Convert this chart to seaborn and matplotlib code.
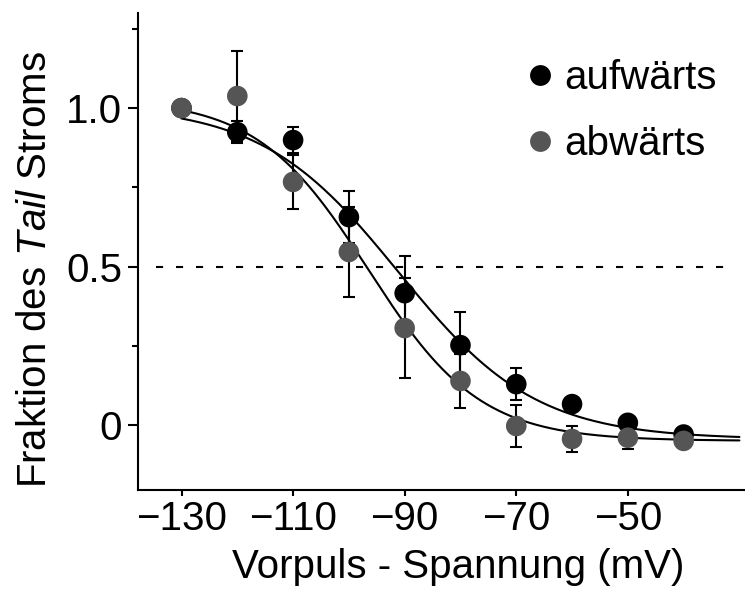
import numpy as np
import pandas as pd
import matplotlib
matplotlib.use("Agg")
import matplotlib.pyplot as plt
import seaborn as sns
from matplotlib.lines import Line2D
from matplotlib.ticker import FixedLocator

# ---------------- data ----------------
spannung = [-130, -120, -110, -100, -90, -80, -70, -60, -50, -40]

auf_mittel = [1.0, 0.924, 0.899, 0.656, 0.416, 0.252, 0.129, 0.066, 0.007, -0.030]
auf_fehler = [0.0, 0.035, 0.040, 0.082, 0.117, 0.104, 0.050, 0.0, 0.0, 0.0]

ab_mittel = [1.0, 1.038, 0.767, 0.546, 0.306, 0.139, -0.003, -0.044, -0.040, -0.050]
ab_fehler = [0.0, 0.142, 0.085, 0.142, 0.158, 0.085, 0.066, 0.040, 0.035, 0.0]

# Boltzmann fit parameters (top, bottom, V1/2, slope)
fit_auf = [1.01, -0.045, -91.1, 12.3]
fit_ab = [1.03, -0.050, -96.5, 10.0]
fit_start, fit_end = -130, -30

serien = ["aufwärts", "abwärts"]
farben = ["#000000", "#555555"]

x_ticks = [-130, -110, -90, -70, -50]
y_ticks = [0, 0.5, 1.0]
y_tick_labels = ["0", "0.5", "1.0"]
y_minor = [0.25, 0.75, 1.25]
referenz = 0.5
referenz_span = (-134.6, -30.8)

# ---------------- style ----------------
sns.set_theme(style="ticks")
plt.rcParams["font.family"] = ["Liberation Sans", "DejaVu Sans"]
plt.rcParams["mathtext.fontset"] = "custom"
plt.rcParams["mathtext.rm"] = "Liberation Sans"
plt.rcParams["mathtext.it"] = "Liberation Sans:italic"
for key in ["text.color", "axes.labelcolor", "xtick.color", "ytick.color",
            "xtick.labelcolor", "ytick.labelcolor", "axes.edgecolor"]:
    plt.rcParams[key] = "black"
FS = 29

df = pd.DataFrame({
    "V": spannung * 2,
    "Fraktion": auf_mittel + ab_mittel,
    "Fehler": auf_fehler + ab_fehler,
    "Richtung": [serien[0]] * len(spannung) + [serien[1]] * len(spannung),
})

def boltzmann(v, p):
    top, bottom, vh, k = p
    return bottom + (top - bottom) / (1 + np.exp((v - vh) / k))

v_fit = np.linspace(fit_start, fit_end, 300)
fit_df = pd.DataFrame({
    "V": np.concatenate([v_fit, v_fit]),
    "Fraktion": np.concatenate([boltzmann(v_fit, fit_auf), boltzmann(v_fit, fit_ab)]),
    "Richtung": [serien[0]] * len(v_fit) + [serien[1]] * len(v_fit),
})

fig = plt.figure(figsize=(7.45, 5.92), dpi=100)
ax = fig.add_axes([138 / 745, 1 - 490 / 592, 1 - 138 / 745, (490 - 13) / 592])

# reference line
ax.hlines(referenz, referenz_span[0], referenz_span[1], colors="black",
          linewidth=1.5, linestyles=(0, (3.4, 6.2)), zorder=1)

# fit curves
sns.lineplot(data=fit_df, x="V", y="Fraktion", units="Richtung", estimator=None,
             color="black", linewidth=1.5, ax=ax, legend=False, zorder=2)

# error bars
for name in serien:
    sub = df[df["Richtung"] == name]
    ax.errorbar(sub["V"], sub["Fraktion"], yerr=sub["Fehler"], fmt="none",
                ecolor="black", elinewidth=1.5, capsize=4.3, capthick=1.5, zorder=3)

# points
sns.scatterplot(data=df, x="V", y="Fraktion", hue="Richtung", hue_order=serien,
                palette=farben, s=220, linewidth=0, edgecolor="none",
                ax=ax, legend=False, zorder=4)

ax.set_xlim(-137.8, -29)
ax.set_ylim(-0.205, 1.30)

ax.xaxis.set_major_locator(FixedLocator(x_ticks))
ax.set_xticklabels([f"\u2212{abs(t)}" for t in x_ticks])
ax.yaxis.set_major_locator(FixedLocator(y_ticks))
ax.set_yticklabels(y_tick_labels)
ax.yaxis.set_minor_locator(FixedLocator(y_minor))

ax.tick_params(axis="x", which="major", length=4.5, width=1.5, pad=3, labelsize=FS, color="black")
ax.tick_params(axis="y", which="major", length=7.5, width=1.5, pad=4, labelsize=FS, color="black")
ax.tick_params(axis="y", which="minor", length=4, width=1.5, color="black")

for s in ["top", "right"]:
    ax.spines[s].set_visible(False)
for s in ["left", "bottom"]:
    ax.spines[s].set_linewidth(1.5)
    ax.spines[s].set_color("black")

ax.set_xlabel("Vorpuls - Spannung (mV)", fontsize=FS)
ax.set_ylabel("Fraktion des $\\mathit{Tail}$ Stroms", fontsize=FS)
ax.xaxis.set_label_coords(0.527, -0.122)
ax.yaxis.set_label_coords(-0.139, 0.462)

handles = [Line2D([], [], marker="o", linestyle="none", markersize=15,
                  markerfacecolor=c, markeredgewidth=0, color=c) for c in farben]
ax.legend(handles, serien, loc="upper left", bbox_to_anchor=(0.643, 0.903),
          frameon=False, fontsize=FS, handlelength=0.6, handletextpad=0.3,
          labelspacing=0.7, borderpad=0, borderaxespad=0)

fig.savefig("out.png", dpi=100)
